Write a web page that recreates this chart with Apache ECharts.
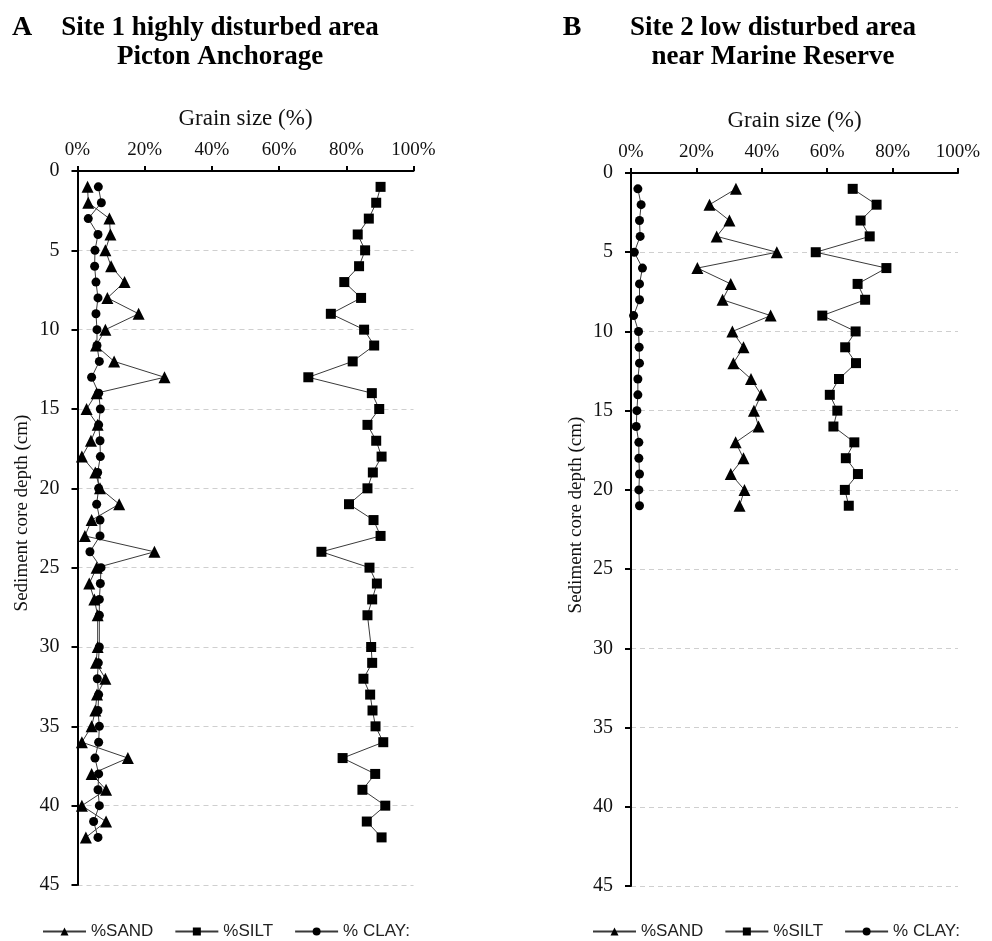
<!DOCTYPE html>
<html>
<head>
<meta charset="utf-8">
<script src="https://cdn.jsdelivr.net/npm/echarts@6/dist/echarts.min.js"></script>
<style>
html, body { margin: 0; padding: 0; background: #fff; }
#chart { width: 992px; height: 941px; }
</style>
</head>
<body>
<div id="chart"></div>
<script>
// 图例名称
var seriesNames = ['%SAND', '%SILT', '% CLAY:'];
var xTicks = [0, 20, 40, 60, 80, 100];

// Site 1 (A) 深度 cm
var depthA = [1, 2, 3, 4, 5, 6, 7, 8, 9, 10, 11, 12, 13, 14, 15, 16, 17, 18, 19, 20, 21,
	22, 23, 24, 25, 26, 27, 28, 30, 31, 32, 33, 34, 35, 36, 37, 38, 39, 40, 41, 42];
var sandA = [3.0, 3.2, 9.5, 9.8, 8.3, 10.0, 14.0, 8.9, 18.2, 8.3, 5.5, 10.9, 25.9, 5.7, 2.7, 6.0, 4.0, 1.3, 5.3, 6.7, 12.4,
	4.2, 2.2, 22.9, 5.7, 3.5, 5.0, 6.0, 6.0, 5.5, 8.3, 5.8, 5.3, 4.2, 1.3, 15.0, 4.2, 8.5, 1.3, 8.5, 2.5];
var siltA = [90.2, 88.9, 86.7, 83.4, 85.6, 83.8, 79.4, 84.4, 75.4, 85.3, 88.3, 81.9, 68.7, 87.6, 89.8, 86.3, 88.9, 90.5, 87.9, 86.3, 80.8,
	88.1, 90.2, 72.6, 86.9, 89.1, 87.7, 86.3, 87.4, 87.7, 85.1, 87.1, 87.8, 88.7, 91.0, 78.9, 88.6, 84.8, 91.6, 86.1, 90.5];
var clayA = [6.2, 7.1, 3.2, 6.1, 5.2, 5.1, 5.5, 6.1, 5.5, 5.8, 5.8, 6.5, 4.2, 6.3, 6.8, 6.3, 6.7, 6.8, 6.0, 6.3, 5.7,
	6.7, 6.7, 3.7, 7.0, 6.8, 6.5, 6.5, 6.5, 6.2, 5.9, 6.3, 6.1, 6.5, 6.3, 5.2, 6.3, 6.1, 6.5, 4.8, 6.1];

// Site 2 (B)
var depthB = [1, 2, 3, 4, 5, 6, 7, 8, 9, 10, 11, 12, 13, 14, 15, 16, 17, 18, 19, 20, 21];
var sandB = [32.1, 24.0, 30.1, 26.2, 44.6, 20.3, 30.5, 28.0, 42.7, 31.0, 34.4, 31.3, 36.7, 39.8, 37.6, 39.0, 32.0, 34.4, 30.5, 34.7, 33.2];
var siltB = [67.8, 75.1, 70.2, 73.0, 56.5, 78.1, 69.3, 71.6, 58.5, 68.7, 65.5, 68.8, 63.6, 60.8, 63.1, 61.9, 68.3, 65.7, 69.4, 65.4, 66.6];
var clayB = [2.1, 3.1, 2.6, 2.8, 1.0, 3.5, 2.6, 2.6, 0.8, 2.3, 2.5, 2.6, 2.1, 2.1, 1.8, 1.6, 2.4, 2.4, 2.6, 2.4, 2.6];

var serif = "'Liberation Serif', 'Times New Roman', serif";
var sans = "'Liberation Sans', Arial, sans-serif";

function pairs(xs, ys){
	var out = [];
	for(var i = 0; i < xs.length; i++){
		out.push([xs[i], ys[i]]);
	}
	return out;
}

function xAxisOf(gridIndex){
	return {
		gridIndex: gridIndex,
		type: 'value',
		position: 'top',
		min: xTicks[0],
		max: xTicks[xTicks.length - 1],
		interval: 20,
		name: 'Grain size (%)',
		nameLocation: 'middle',
		nameGap: 41,
		nameTextStyle: { fontFamily: serif, fontSize: 23, color: '#111' },
		axisLine: { lineStyle: { color: '#000', width: 2 } },
		axisTick: { show: true, length: 5, lineStyle: { color: '#000', width: 2 } },
		axisLabel: { formatter: '{value}%', margin: 11, fontFamily: serif, fontSize: 19, color: '#111' },
		splitLine: { show: false }
	};
}

function yAxisOf(gridIndex){
	return {
		gridIndex: gridIndex,
		type: 'value',
		inverse: true,
		min: 0,
		max: 45,
		interval: 5,
		axisLine: { onZero: false, lineStyle: { color: '#000', width: 2 } },
		axisTick: { show: true, length: 6, lineStyle: { color: '#000', width: 2 } },
		axisLabel: { margin: 18, fontFamily: serif, fontSize: 20, color: '#111' },
		splitLine: { show: true, lineStyle: { color: '#cfcfcf', width: 1, type: [5, 4] } }
	};
}

function lineSeries(name, idx, data, symbol, size){
	return {
		name: name,
		type: 'line',
		xAxisIndex: idx,
		yAxisIndex: idx,
		data: data,
		symbol: symbol,
		symbolSize: size,
		showAllSymbol: true,
		animation: false,
		lineStyle: { color: '#3a3a3a', width: 1 },
		itemStyle: { color: '#000' }
	};
}

function legendOf(left){
	return {
		data: seriesNames,
		left: left,
		top: 923,
		padding: 0,
		itemWidth: 43,
		itemHeight: 10,
		itemGap: 21,
		textStyle: { fontFamily: sans, fontSize: 17, color: '#222' }
	};
}

function titleText(x, y, text, size){
	return {
		type: 'text',
		x: x,
		y: y,
		style: {
			text: text,
			font: 'bold ' + size + 'px ' + serif,
			fill: '#000',
			align: 'center',
			verticalAlign: 'middle'
		}
	};
}

function yNameText(x, y){
	return {
		type: 'text',
		x: x,
		y: y,
		rotation: Math.PI / 2,
		style: {
			text: 'Sediment core depth (cm)',
			font: '19px ' + serif,
			fill: '#111',
			align: 'center',
			verticalAlign: 'middle'
		}
	};
}

var myChart = echarts.init(document.getElementById('chart'), null, { renderer: 'canvas' });

var option = {
	backgroundColor: '#fff',
	animation: false,
	grid: [
		{ left: 77.5, top: 171, width: 336, height: 714 },
		{ left: 631, top: 173, width: 327, height: 713 }
	],
	xAxis: [xAxisOf(0), xAxisOf(1)],
	yAxis: [yAxisOf(0), yAxisOf(1)],
	legend: [legendOf(42), legendOf(592)],
	graphic: [
		titleText(22, 28, 'A', 28),
		titleText(220, 28, 'Site 1 highly disturbed area', 27),
		titleText(220, 57, 'Picton Anchorage', 27),
		titleText(572, 28, 'B', 28),
		titleText(773, 28, 'Site 2 low disturbed area', 27),
		titleText(773, 57, 'near Marine Reserve', 27),
		yNameText(22, 513),
		yNameText(576, 515)
	],
	series: [
		lineSeries(seriesNames[0], 0, pairs(sandA, depthA), 'triangle', 12),
		lineSeries(seriesNames[1], 0, pairs(siltA, depthA), 'rect', 10),
		lineSeries(seriesNames[2], 0, pairs(clayA, depthA), 'circle', 9),
		lineSeries(seriesNames[0], 1, pairs(sandB, depthB), 'triangle', 12),
		lineSeries(seriesNames[1], 1, pairs(siltB, depthB), 'rect', 10),
		lineSeries(seriesNames[2], 1, pairs(clayB, depthB), 'circle', 9)
	]
};

myChart.setOption(option);
</script>
</body>
</html>
